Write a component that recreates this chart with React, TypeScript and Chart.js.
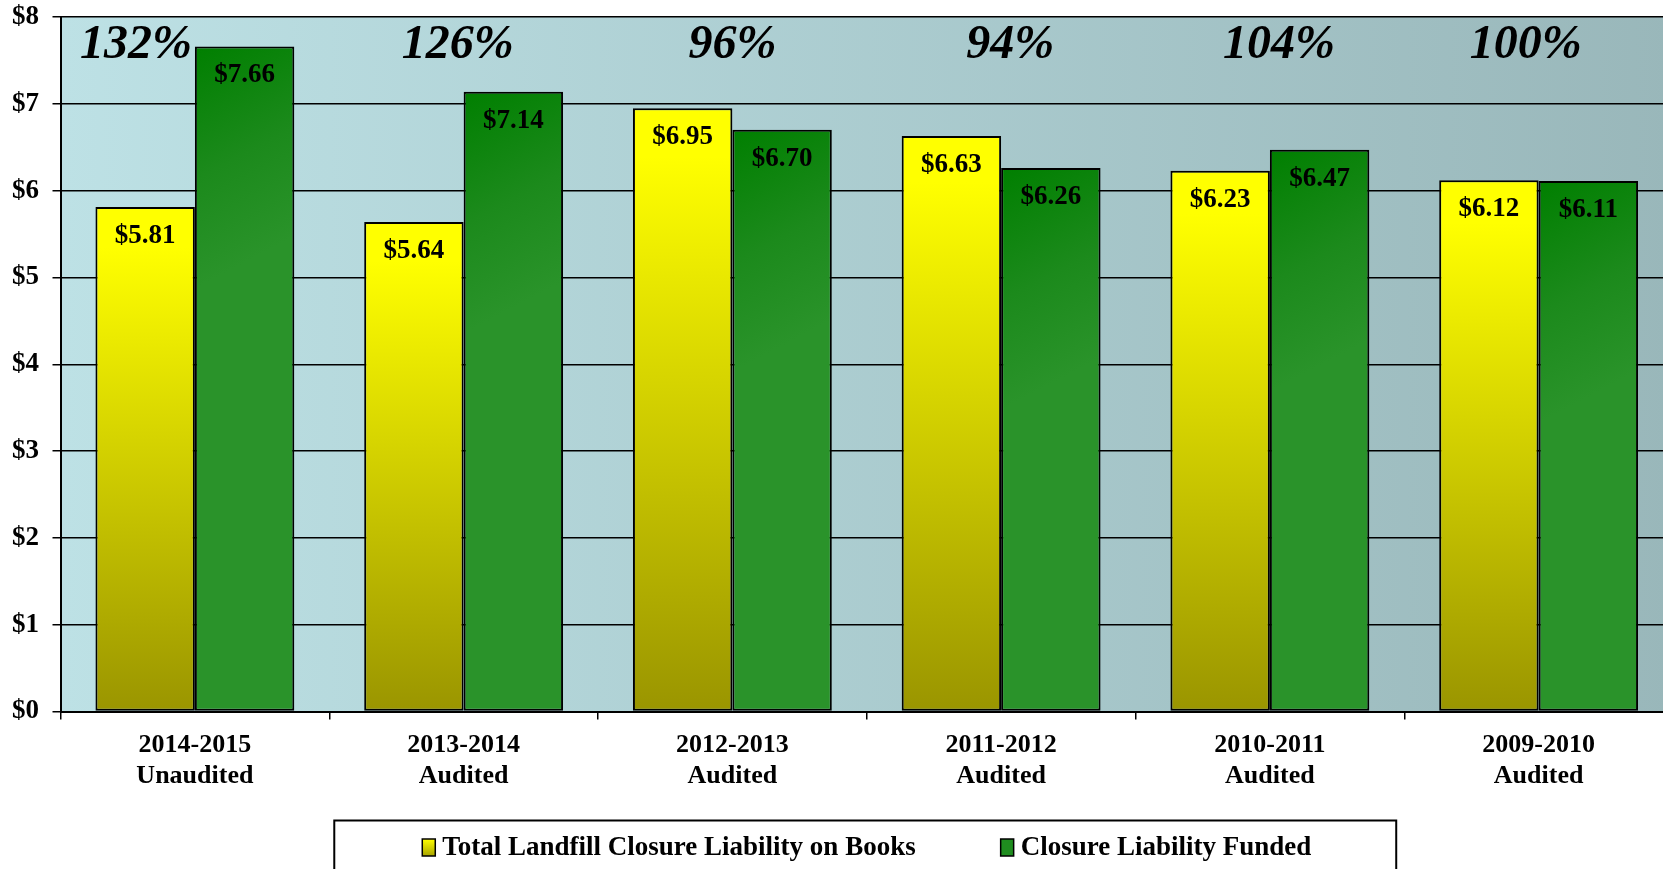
import React, { useEffect, useRef } from "react";
import { Chart, registerables } from "chart.js";

Chart.register(...registerables);

// ---- data ----
const years = ["2014-2015", "2013-2014", "2012-2013", "2011-2012", "2010-2011", "2009-2010"];
const statuses = ["Unaudited", "Audited", "Audited", "Audited", "Audited", "Audited"];
const liabilityOnBooks = [5.81, 5.64, 6.95, 6.63, 6.23, 6.12];
const liabilityFunded = [7.66, 7.14, 6.7, 6.26, 6.47, 6.11];
const fundedPercent = ["132%", "126%", "96%", "94%", "104%", "100%"];
const seriesNames = ["Total Landfill Closure Liability on Books", "Closure Liability Funded"];
const yMin = 0;
const yMax = 8;
const yStep = 1;

// ---- style ----
const percentOffsets = [-59, -6, 0, 9, 9, -13];
const CAT_PCT = 0.74;
const SERIF = '"Liberation Serif", "Times New Roman", serif';
const CANVAS_W = 1730;
const CANVAS_H = 900;

function barExtents(chart: any, dsIndex: number, dataIndex: number) {
  const xs = chart.scales.x;
  const n = chart.data.labels.length;
  const center = xs.getPixelForValue(dataIndex);
  const catW = xs.width / n;
  const barW = (catW * CAT_PCT) / 2;
  const x0 = dsIndex === 0 ? center - barW : center;
  return [x0, x0 + barW];
}

function yellowFill(c: any) {
  const chart = c.chart;
  if (!chart.chartArea || c.dataIndex === undefined || !chart.scales.y) return "#e6e400";
  const ys = chart.scales.y;
  const top = ys.getPixelForValue(c.raw);
  const bot = ys.getPixelForValue(0);
  const g = chart.ctx.createLinearGradient(0, top, 0, bot);
  g.addColorStop(0, "#ffff00");
  g.addColorStop(0.08, "#ffff00");
  g.addColorStop(1, "#9a9500");
  return g;
}

function greenFill(c: any) {
  const chart = c.chart;
  if (!chart.chartArea || c.dataIndex === undefined || !chart.scales.y) return "#1e8c1e";
  const ys = chart.scales.y;
  const top = ys.getPixelForValue(c.raw);
  const [x0, x1] = barExtents(chart, 1, c.dataIndex);
  const g = chart.ctx.createLinearGradient(x0, top, x1, top + 190);
  g.addColorStop(0, "#007f00");
  g.addColorStop(0.55, "#1c8a1c");
  g.addColorStop(1, "#2a932a");
  return g;
}

const backgroundPlugin = {
  id: "plotBackground",
  beforeDraw(chart: any) {
    const { ctx, chartArea: a } = chart;
    const g = ctx.createLinearGradient(a.left, 0, a.right, 0);
    g.addColorStop(0, "#bde1e5");
    g.addColorStop(1, "#99b7ba");
    ctx.save();
    ctx.fillStyle = g;
    ctx.fillRect(a.left, a.top, a.width, a.height);
    ctx.restore();
  },
};

const labelsPlugin = {
  id: "barLabels",
  afterDatasetsDraw(chart: any) {
    const { ctx } = chart;
    ctx.save();
    ctx.fillStyle = "#000";
    ctx.textAlign = "center";
    ctx.textBaseline = "middle";
    ctx.font = `bold 27px ${SERIF}`;
    chart.data.datasets.forEach((ds: any, di: number) => {
      const meta = chart.getDatasetMeta(di);
      meta.data.forEach((bar: any, i: number) => {
        ctx.fillText("$" + Number(ds.data[i]).toFixed(2), bar.x, bar.y + 29);
      });
    });
    // funded percentages
    ctx.font = `italic bold 48px ${SERIF}`;
    const xs = chart.scales.x;
    fundedPercent.forEach((t, i) => {
      ctx.fillText(t, xs.getPixelForValue(i) + percentOffsets[i], chart.chartArea.top + 29);
    });
    ctx.restore();
  },
};

const legendPlugin = {
  id: "boxLegend",
  afterDraw(chart: any) {
    const { ctx, chartArea: a } = chart;
    const xs = chart.scales.x;
    ctx.save();
    ctx.font = `bold 27px ${SERIF}`;
    const markerW = 13;
    const markerH = 17;
    const gapM = 7;
    const gapItem = 85;
    const widths = seriesNames.map((s) => ctx.measureText(s).width);
    const total =
      widths.reduce((p, w) => p + markerW + gapM + w, 0) + gapItem * (seriesNames.length - 1);
    const cx = (a.left + a.right) / 2;
    let x = cx - total / 2;
    const textY = xs.bottom + 28;
    const boxTop = xs.bottom + 1;
    ctx.lineWidth = 2;
    ctx.strokeStyle = "#000";
    ctx.strokeRect(x - 88, boxTop, total + 173, 200);
    seriesNames.forEach((s, i) => {
      const my = textY - markerH / 2;
      let fill: any;
      if (i === 0) {
        const g = ctx.createLinearGradient(0, my, 0, my + markerH);
        g.addColorStop(0, "#ffff00");
        g.addColorStop(1, "#a8a400");
        fill = g;
      } else {
        fill = "#1f8d1f";
      }
      ctx.fillStyle = fill;
      ctx.fillRect(x, my, markerW, markerH);
      ctx.lineWidth = 1.5;
      ctx.strokeRect(x, my, markerW, markerH);
      ctx.fillStyle = "#000";
      ctx.textAlign = "left";
      ctx.textBaseline = "middle";
      ctx.fillText(s, x + markerW + gapM, textY + 1);
      x += markerW + gapM + widths[i] + gapItem;
    });
    ctx.restore();
  },
};

export default function App() {
  const ref = useRef<HTMLCanvasElement | null>(null);

  useEffect(() => {
    if (!ref.current) return;
    const chart = new Chart(ref.current, {
      type: "bar",
      data: {
        labels: years.map((y, i) => [y, statuses[i]]),
        datasets: [
          {
            label: seriesNames[0],
            data: liabilityOnBooks,
            backgroundColor: yellowFill,
            borderColor: "#000",
            borderWidth: 2,
            borderSkipped: false,
            categoryPercentage: CAT_PCT,
            barPercentage: 1,
          },
          {
            label: seriesNames[1],
            data: liabilityFunded,
            backgroundColor: greenFill,
            borderColor: "#000",
            borderWidth: 2,
            borderSkipped: false,
            categoryPercentage: CAT_PCT,
            barPercentage: 1,
          },
        ],
      },
      options: {
        responsive: false,
        animation: false,
        devicePixelRatio: 1,
        layout: { padding: { left: 12, top: 17, right: CANVAS_W - 1673, bottom: CANVAS_H - 711.5 - 108 } },
        plugins: {
          legend: { display: false },
          tooltip: { enabled: false },
        },
        scales: {
          x: {
            offset: true,
            grid: {
              display: true,
              offset: true,
              drawOnChartArea: false,
              drawTicks: true,
              tickLength: 8,
              color: "#000",
              lineWidth: 1.5,
            },
            border: { display: true, color: "#000", width: 2 },
            ticks: {
              color: "#000",
              font: { family: SERIF, size: 26, weight: "bold", lineHeight: 1.2 },
              padding: 10,
              maxRotation: 0,
              autoSkip: false,
            },
            afterFit(scale: any) {
              scale.height = 108;
            },
          },
          y: {
            min: yMin,
            max: yMax,
            grid: {
              color: "#000",
              lineWidth: 1.5,
              drawTicks: true,
              tickLength: 8,
            },
            border: { display: true, color: "#000", width: 2 },
            ticks: {
              stepSize: yStep,
              color: "#000",
              padding: 0,
              crossAlign: "far",
              font: { family: SERIF, size: 27, weight: "bold" },
              callback: (v: any) => "$" + v,
            },
            afterFit(scale: any) {
              scale.width = 48.5;
            },
          },
        },
      },
      plugins: [backgroundPlugin, labelsPlugin, legendPlugin],
    } as any);
    return () => chart.destroy();
  }, []);

  return (
    <div
      style={{
        position: "fixed",
        left: 0,
        top: 0,
        width: 1663,
        height: 869,
        overflow: "hidden",
        background: "#fff",
      }}
    >
      <canvas
        ref={ref}
        width={CANVAS_W}
        height={CANVAS_H}
        style={{ width: CANVAS_W, height: CANVAS_H, display: "block" }}
      />
    </div>
  );
}
